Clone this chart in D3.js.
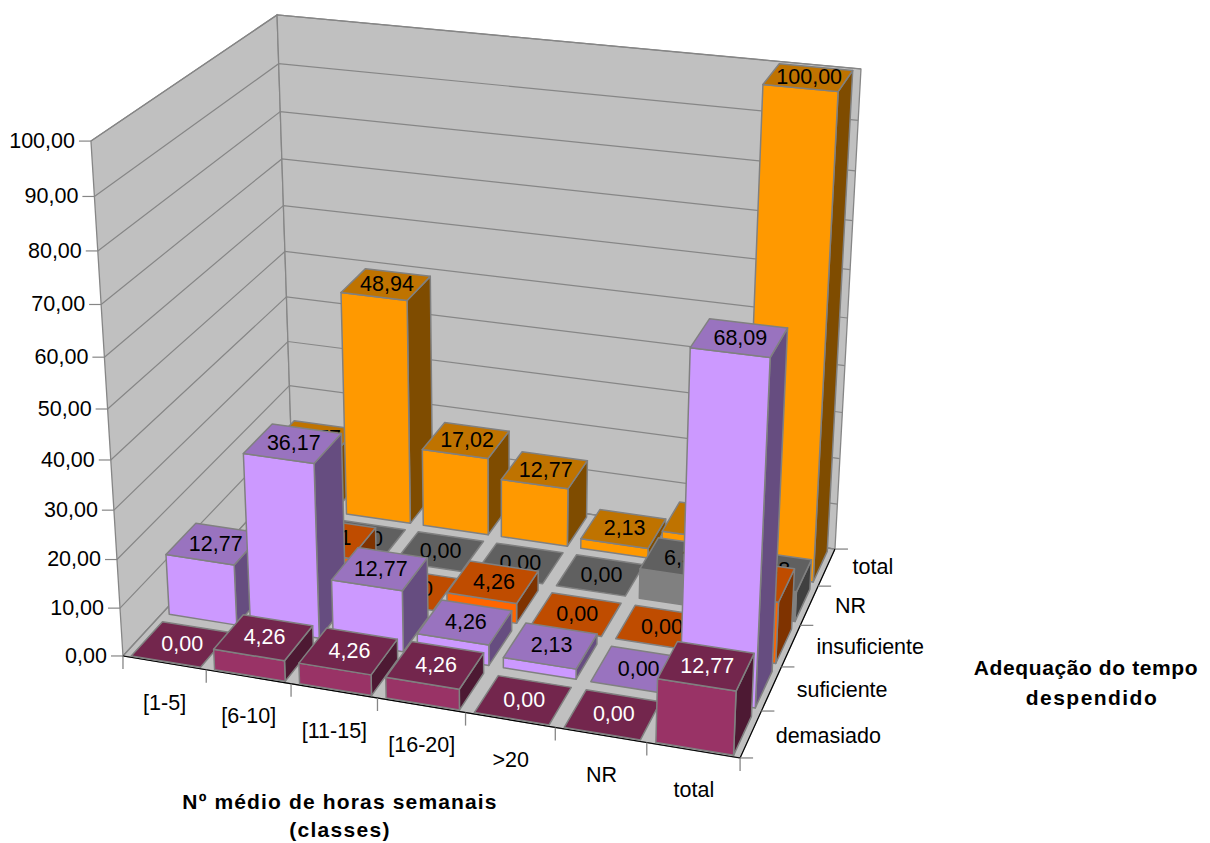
<!DOCTYPE html>
<html lang="pt">
<head>
<meta charset="utf-8">
<title>Adequação do tempo despendido por horas semanais</title>
<script src="https://cdn.jsdelivr.net/npm/d3@7"></script>
<style>
  html, body { margin: 0; padding: 0; background: #fff; }
  svg { display: block; font-family: "Liberation Sans", Arial, sans-serif; }
</style>
</head>
<body>
<svg id="chart" width="1210" height="843"></svg>
<script>
const hourClasses = ["[1-5]", "[6-10]", "[11-15]", "[16-20]", ">20", "NR", "total"];
const adequacyRows = ["demasiado", "suficiente", "insuficiente", "NR", "total"];

const demasiado   = [0.00, 4.26, 4.26, 4.26, 0.00, 0.00, 12.77];
const suficiente  = [12.77, 36.17, 12.77, 4.26, 2.13, 0.00, 68.09];
const insuficiente = [0.00, 8.51, 0.00, 4.26, 0.00, 0.00, 12.77];
const semResposta = [0.00, 0.00, 0.00, 0.00, 0.00, 6.38, 6.38];
const totalGeral  = [12.77, 48.94, 17.02, 12.77, 2.13, 6.38, 100.00];

const valueTicks = d3.range(0, 101, 10);

const rowValues = [demasiado, suficiente, insuficiente, semResposta, totalGeral];
const rowColors = [
  { front: "#993366", top: "#73264D", side: "#4D1933", text: "#fff" },
  { front: "#CC99FF", top: "#9973BF", side: "#664D80", text: "#000" },
  { front: "#FF6600", top: "#BF4C00", side: "#7F3300", text: "#000" },
  { front: "#808080", top: "#606060", side: "#404040", text: "#000" },
  { front: "#FF9900", top: "#BF7300", side: "#7F4C00", text: "#000" }
];

// Perspective of the chart box: where known box corners land on the page.
// A corner is [across, depth, height, pageX, pageY], each box axis running 0..1.
const boxCorners = [
  [0, 0, 0, 123, 656],
  [1, 0, 0, 740, 758],
  [1, 1, 0, 835, 549],
  [0, 0, 1, 91, 141],
  [0, 1, 1, 277, 15],
  [1, 1, 1, 861, 69]
];

function solveProjection(corners) {
  const rowsA = [], rowsB = [];
  for (const [u, v, w, X, Y] of corners) {
    rowsA.push([u, v, w, 1, 0, 0, 0, 0, -X * u, -X * v, -X * w]); rowsB.push(X);
    rowsA.push([0, 0, 0, 0, u, v, w, 1, -Y * u, -Y * v, -Y * w]); rowsB.push(Y);
  }
  const n = 11;
  const M = d3.range(n).map(i => d3.range(n + 1).map(j =>
    j < n ? d3.sum(rowsA, (r) => r[i] * r[j]) : d3.sum(rowsA, (r, k) => r[i] * rowsB[k])));
  for (let c = 0; c < n; c++) {
    let p = c;
    for (let r = c + 1; r < n; r++) if (Math.abs(M[r][c]) > Math.abs(M[p][c])) p = r;
    [M[c], M[p]] = [M[p], M[c]];
    for (let r = 0; r < n; r++) {
      if (r === c) continue;
      const f = M[r][c] / M[c][c];
      for (let k = c; k <= n; k++) M[r][k] -= f * M[c][k];
    }
  }
  return M.map((row, i) => row[n] / row[i]);
}

const m = solveProjection(boxCorners);
const project = (u, v, w) => {
  const d = m[8] * u + m[9] * v + m[10] * w + 1;
  return [(m[0] * u + m[1] * v + m[2] * w + m[3]) / d,
          (m[4] * u + m[5] * v + m[6] * w + m[7]) / d];
};

const across = d3.scaleBand().domain(hourClasses).range([0, 1]).paddingInner(0.1675).paddingOuter(0.081).align(0.53);
const depth = d3.scaleBand().domain(adequacyRows).range([0, 1]).paddingInner(0.1806).paddingOuter(0.058).align(0.25);
const height = d3.scaleLinear().domain([0, 100]).range([0, 1]);
const acrossStep = d3.scalePoint().domain(d3.range(hourClasses.length + 1)).range([0, 1]);
const depthStep = d3.scalePoint().domain(d3.range(adequacyRows.length + 1)).range([0, 1]);

const svg = d3.select("#chart");
const outline = d3.line();
const poly = pts => outline(pts) + "Z";

const GRID = "#868686";
const WALL = "#C0C0C0";

// Walls and floor
const shell = svg.append("g");
[
  [[0, 0, 0], [0, 1, 0], [0, 1, 1], [0, 0, 1]],
  [[0, 1, 0], [1, 1, 0], [1, 1, 1], [0, 1, 1]],
  [[0, 0, 0], [1, 0, 0], [1, 1, 0], [0, 1, 0]]
].forEach(face => {
  shell.append("path")
    .attr("d", poly(face.map(p => project(...p))))
    .attr("fill", WALL).attr("stroke", GRID).attr("stroke-width", 1.3);
});

// Gridlines on both walls and the value ticks
const grid = svg.append("g").attr("fill", "none").attr("stroke", GRID).attr("stroke-width", 1.2);
valueTicks.forEach(t => {
  const w = height(t);
  grid.append("path").attr("d", outline([project(0, 0, w), project(0, 1, w), project(1, 1, w)]));
  const [tx, ty] = project(0, 0, w);
  grid.append("path").attr("d", outline([[tx - 12, ty], [tx, ty]]));
  svg.append("text").attr("x", tx - 16).attr("y", ty - 1).attr("dy", "0.36em")
    .attr("text-anchor", "end").attr("font-size", 21.5).attr("fill", "#000")
    .text(d3.format(".2f")(t).replace(".", ","));
});

// Floor front and right edges with their category ticks
const edges = svg.append("g").attr("fill", "none").attr("stroke", "#000").attr("stroke-width", 1.1);
edges.append("path").attr("d", outline([project(0, 0, 0), project(1, 0, 0), project(1, 1, 0)]));
const ticks = svg.append("g").attr("fill", "none").attr("stroke", GRID).attr("stroke-width", 1.3);
acrossStep.domain().forEach(i => {
  const [x, y] = project(acrossStep(i), 0, 0);
  ticks.append("path").attr("d", outline([[x, y], [x, y + 13]]));
});
depthStep.domain().forEach(i => {
  const [x, y] = project(1, depthStep(i), 0);
  ticks.append("path").attr("d", outline([[x, y], [x + 13, y]]));
});

hourClasses.forEach(c => {
  const [x, y] = project(across(c) + across.bandwidth() / 2, 0, 0);
  svg.append("text").attr("x", x).attr("y", y + 39).attr("dy", "0.36em")
    .attr("text-anchor", "middle").attr("font-size", 21.5).attr("fill", "#000").text(c);
});
adequacyRows.forEach(r => {
  const [x, y] = project(1, depth(r) + depth.bandwidth() / 2, 0);
  svg.append("text").attr("x", x + 26).attr("y", y - 1).attr("dy", "0.36em")
    .attr("font-size", 21.5).attr("fill", "#000").text(r);
});

// Bars, painted from the back row forward and left to right
const bars = svg.append("g").attr("stroke", "#808080").attr("stroke-width", 1.5).attr("stroke-linejoin", "round");
const cells = [];
d3.range(adequacyRows.length - 1, -1, -1).forEach(ri => {
  hourClasses.forEach((c, ci) => cells.push({ c, ri, value: rowValues[ri][ci] }));
});

const barG = bars.selectAll("g").data(cells).join("g");
barG.each(function (d) {
  const g = d3.select(this);
  const col = rowColors[d.ri];
  const u0 = across(d.c), u1 = u0 + across.bandwidth();
  const v0 = depth(adequacyRows[d.ri]), v1 = v0 + depth.bandwidth();
  const h = height(d.value);
  if (d.value > 0) {
    g.append("path").attr("fill", col.side)
      .attr("d", poly([[u1, v0, 0], [u1, v1, 0], [u1, v1, h], [u1, v0, h]].map(p => project(...p))));
    g.append("path").attr("fill", col.front)
      .attr("d", poly([[u0, v0, 0], [u1, v0, 0], [u1, v0, h], [u0, v0, h]].map(p => project(...p))));
  }
  g.append("path").attr("fill", col.top)
    .attr("d", poly([[u0, v0, h], [u1, v0, h], [u1, v1, h], [u0, v1, h]].map(p => project(...p))));
  const [lx, ly] = project((u0 + u1) / 2, (v0 + v1) / 2, h);
  g.append("text").attr("x", lx + 1).attr("y", ly - 1).attr("dy", "0.36em")
    .attr("text-anchor", "middle").attr("font-size", 21.5)
    .attr("stroke", "none").attr("fill", col.text)
    .text(d3.format(".2f")(d.value).replace(".", ","));
});

// Axis titles
const title = (x, y, s, spacing) => svg.append("text").attr("x", x).attr("y", y).attr("text-anchor", "middle")
  .attr("font-size", 21).attr("font-weight", "bold").attr("letter-spacing", spacing).attr("fill", "#000").text(s);
title(340, 809, "Nº médio de horas semanais", 1.15);
title(340, 837, "(classes)", 1.3);
title(1086, 675, "Adequação do tempo", 0.6);
title(1092, 705, "despendido", 1.45);
</script>
</body>
</html>
